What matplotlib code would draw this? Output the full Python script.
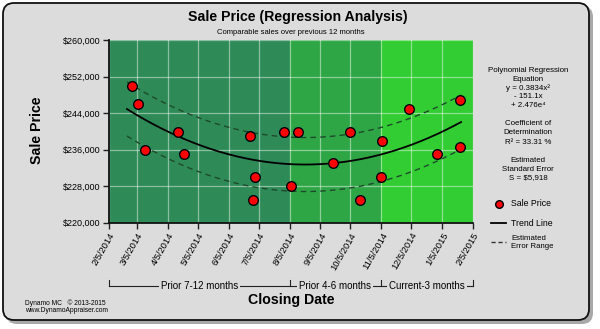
import matplotlib
matplotlib.use('Agg')
import matplotlib.pyplot as plt
import matplotlib.dates as mdates
import matplotlib.transforms as mtransforms
from matplotlib.patches import FancyBboxPatch
import numpy as np
import pandas as pd

plt.rcParams['font.family'] = ['Liberation Sans', 'DejaVu Sans']

# comparable sales
sale_dates = pd.to_datetime([
    '2014-02-28', '2014-03-06', '2014-03-13', '2014-04-15', '2014-04-21',
    '2014-06-26', '2014-07-01', '2014-06-29', '2014-07-30', '2014-08-07',
    '2014-08-14', '2014-09-18', '2014-10-05', '2014-10-15', '2014-11-06',
    '2014-11-05', '2014-12-03', '2014-12-31', '2015-01-23', '2015-01-23'])
sale_prices = [250000, 246000, 236000, 240000, 235000,
               239000, 230000, 225000, 240000, 228000,
               240000, 233000, 240000, 225000, 238000,
               230000, 245000, 235000, 247000, 236500]

std_error = 5918
trend_span = pd.to_datetime(['2014-02-23', '2015-01-24'])

period_edges = pd.to_datetime(['2014-02-05', '2014-08-05', '2014-11-05', '2015-02-05'])
period_labels = ['Prior 7-12 months', 'Prior 4-6 months', 'Current-3 months']
period_colors = ['#2e8b57', '#2ea645', '#32cd32']

month_ticks = pd.date_range('2014-02-05', '2015-02-05', freq=pd.DateOffset(months=1))
month_labels = [f'{d.month}/{d.day}/{d.year}' for d in month_ticks]
price_ticks = np.arange(220000, 260001, 8000)

panel_gray = '#dcdcdc'

fig = plt.figure(figsize=(6, 3.29), dpi=100)
fig.patch.set_facecolor('white')

# rounded frame with drop shadow, drawn in pixel units
bg = fig.add_axes([0, 0, 1, 1])
bg.set_xlim(0, 600)
bg.set_ylim(329, 0)
bg.axis('off')
bg.add_patch(FancyBboxPatch((6, 6), 587, 318, boxstyle='round,pad=0,rounding_size=11',
                            facecolor='#6e6e6e', edgecolor='none', alpha=0.6))
bg.add_patch(FancyBboxPatch((3, 3), 586, 317, boxstyle='round,pad=0,rounding_size=11',
                            facecolor=panel_gray, edgecolor='#111111', linewidth=1.3))

ax = fig.add_axes([109 / 600, 1 - 222.7 / 329, 364 / 600, 182.4 / 329])

for i in range(3):
    ax.axvspan(period_edges[i], period_edges[i + 1], color=period_colors[i], zorder=0)

ax.set_xlim(period_edges[0], period_edges[-1])
ax.set_ylim(220000, 260000)
ax.set_xticks(month_ticks)
ax.set_xticklabels(month_labels, rotation=60, ha='right', rotation_mode='anchor', fontsize=6.7)
ax.set_yticks(price_ticks)
ax.set_yticklabels([f'${v:,.0f}' for v in price_ticks], fontsize=6.5)
ax.grid(True, color='white', alpha=0.45, linewidth=0.9, zorder=1)
ax.tick_params(axis='both', length=4, width=1, color='#222222', pad=2)
for s in ['top', 'right']:
    ax.spines[s].set_visible(False)
for s in ['left', 'bottom']:
    ax.spines[s].set_linewidth(1.3)
    ax.spines[s].set_color('#111111')

# quadratic trend and error band
x0 = mdates.date2num(period_edges[0])
days = mdates.date2num(sale_dates) - x0
coef = np.polyfit(days, sale_prices, 2)
tt = np.linspace(mdates.date2num(trend_span[0]) - x0, mdates.date2num(trend_span[1]) - x0, 200)
trend = np.polyval(coef, tt)
tdates = mdates.num2date(tt + x0)
ax.plot(tdates, trend, color='black', linewidth=1.3, zorder=3)
ax.plot(tdates, trend + std_error, color='#1e4a2c', linewidth=1, linestyle=(0, (4, 3)), zorder=3)
ax.plot(tdates, trend - std_error, color='#1e4a2c', linewidth=1, linestyle=(0, (4, 3)), zorder=3)

ax.scatter(sale_dates, sale_prices, s=48, color='red', edgecolor='black', linewidth=1, zorder=4)

# titles
fig.text(298 / 600, 1 - 17 / 329, 'Sale Price (Regression Analysis)', ha='center', va='center',
         fontsize=10.2, fontweight='bold')
fig.text(291 / 600, 1 - 32 / 329, 'Comparable sales over previous 12 months', ha='center',
         va='center', fontsize=5.5)
fig.text(37 / 600, 1 - 130 / 329, 'Sale Price', rotation=90, ha='center', va='center',
         fontsize=10.2, fontweight='bold')
fig.text(291 / 600, 1 - 300 / 329, 'Closing Date', ha='center', va='center',
         fontsize=10.2, fontweight='bold')

# period brackets below the axis
trans = mtransforms.blended_transform_factory(ax.transData, ax.transAxes)
y_line = -(286 - 222.7) / 182.4
y_top = -(280 - 222.7) / 182.4
ax.plot(period_edges, [y_line] * 4, color='#222222', linewidth=0.8, transform=trans, clip_on=False)
for d in period_edges:
    ax.plot([d, d], [y_line, y_top], color='#222222', linewidth=0.8, transform=trans, clip_on=False)
for i, lab in enumerate(period_labels):
    mid = period_edges[i] + (period_edges[i + 1] - period_edges[i]) / 2
    ax.text(mid, y_line, lab, transform=trans, ha='center', va='center', fontsize=7,
            bbox=dict(facecolor=panel_gray, edgecolor='none', pad=1.5))

# regression notes
notes = [
    (70.5, 'Polynomial Regression'), (79.3, 'Equation'), (88.3, 'y = 0.3834x²'),
    (97, '- 151.1x'), (105.5, '+ 2.476e⁴'),
    (123.5, 'Coefficient of'), (133, 'Determination'), (142, 'R² = 33.31 %'),
    (160, 'Estimated'), (169, 'Standard Error'), (178, 'S = $5,918'),
]
for y, t in notes:
    fig.text(528 / 600, 1 - y / 329, t, ha='center', va='center', fontsize=5.7)

# legend
bg.scatter([499], [204], s=30, color='red', edgecolor='black', linewidth=1, zorder=5)
bg.text(511, 204, 'Sale Price', ha='left', va='center', fontsize=6.3)
bg.plot([491, 506], [223, 223], color='black', linewidth=1.3)
bg.text(511, 223, 'Trend Line', ha='left', va='center', fontsize=6.3)
bg.plot([491, 506], [242, 242], color='#333333', linewidth=1, linestyle=(0, (3, 2)))
bg.text(511, 238, 'Estimated', ha='left', va='center', fontsize=5.6)
bg.text(511, 246, 'Error Range', ha='left', va='center', fontsize=5.6)

# footer
bg.text(25, 303, 'Dynamo MC   © 2013-2015', ha='left', va='center', fontsize=4.8)
bg.text(25, 310, 'www.DynamoAppraiser.com', ha='left', va='center', fontsize=4.8)

fig.savefig('out.png', dpi=100)
